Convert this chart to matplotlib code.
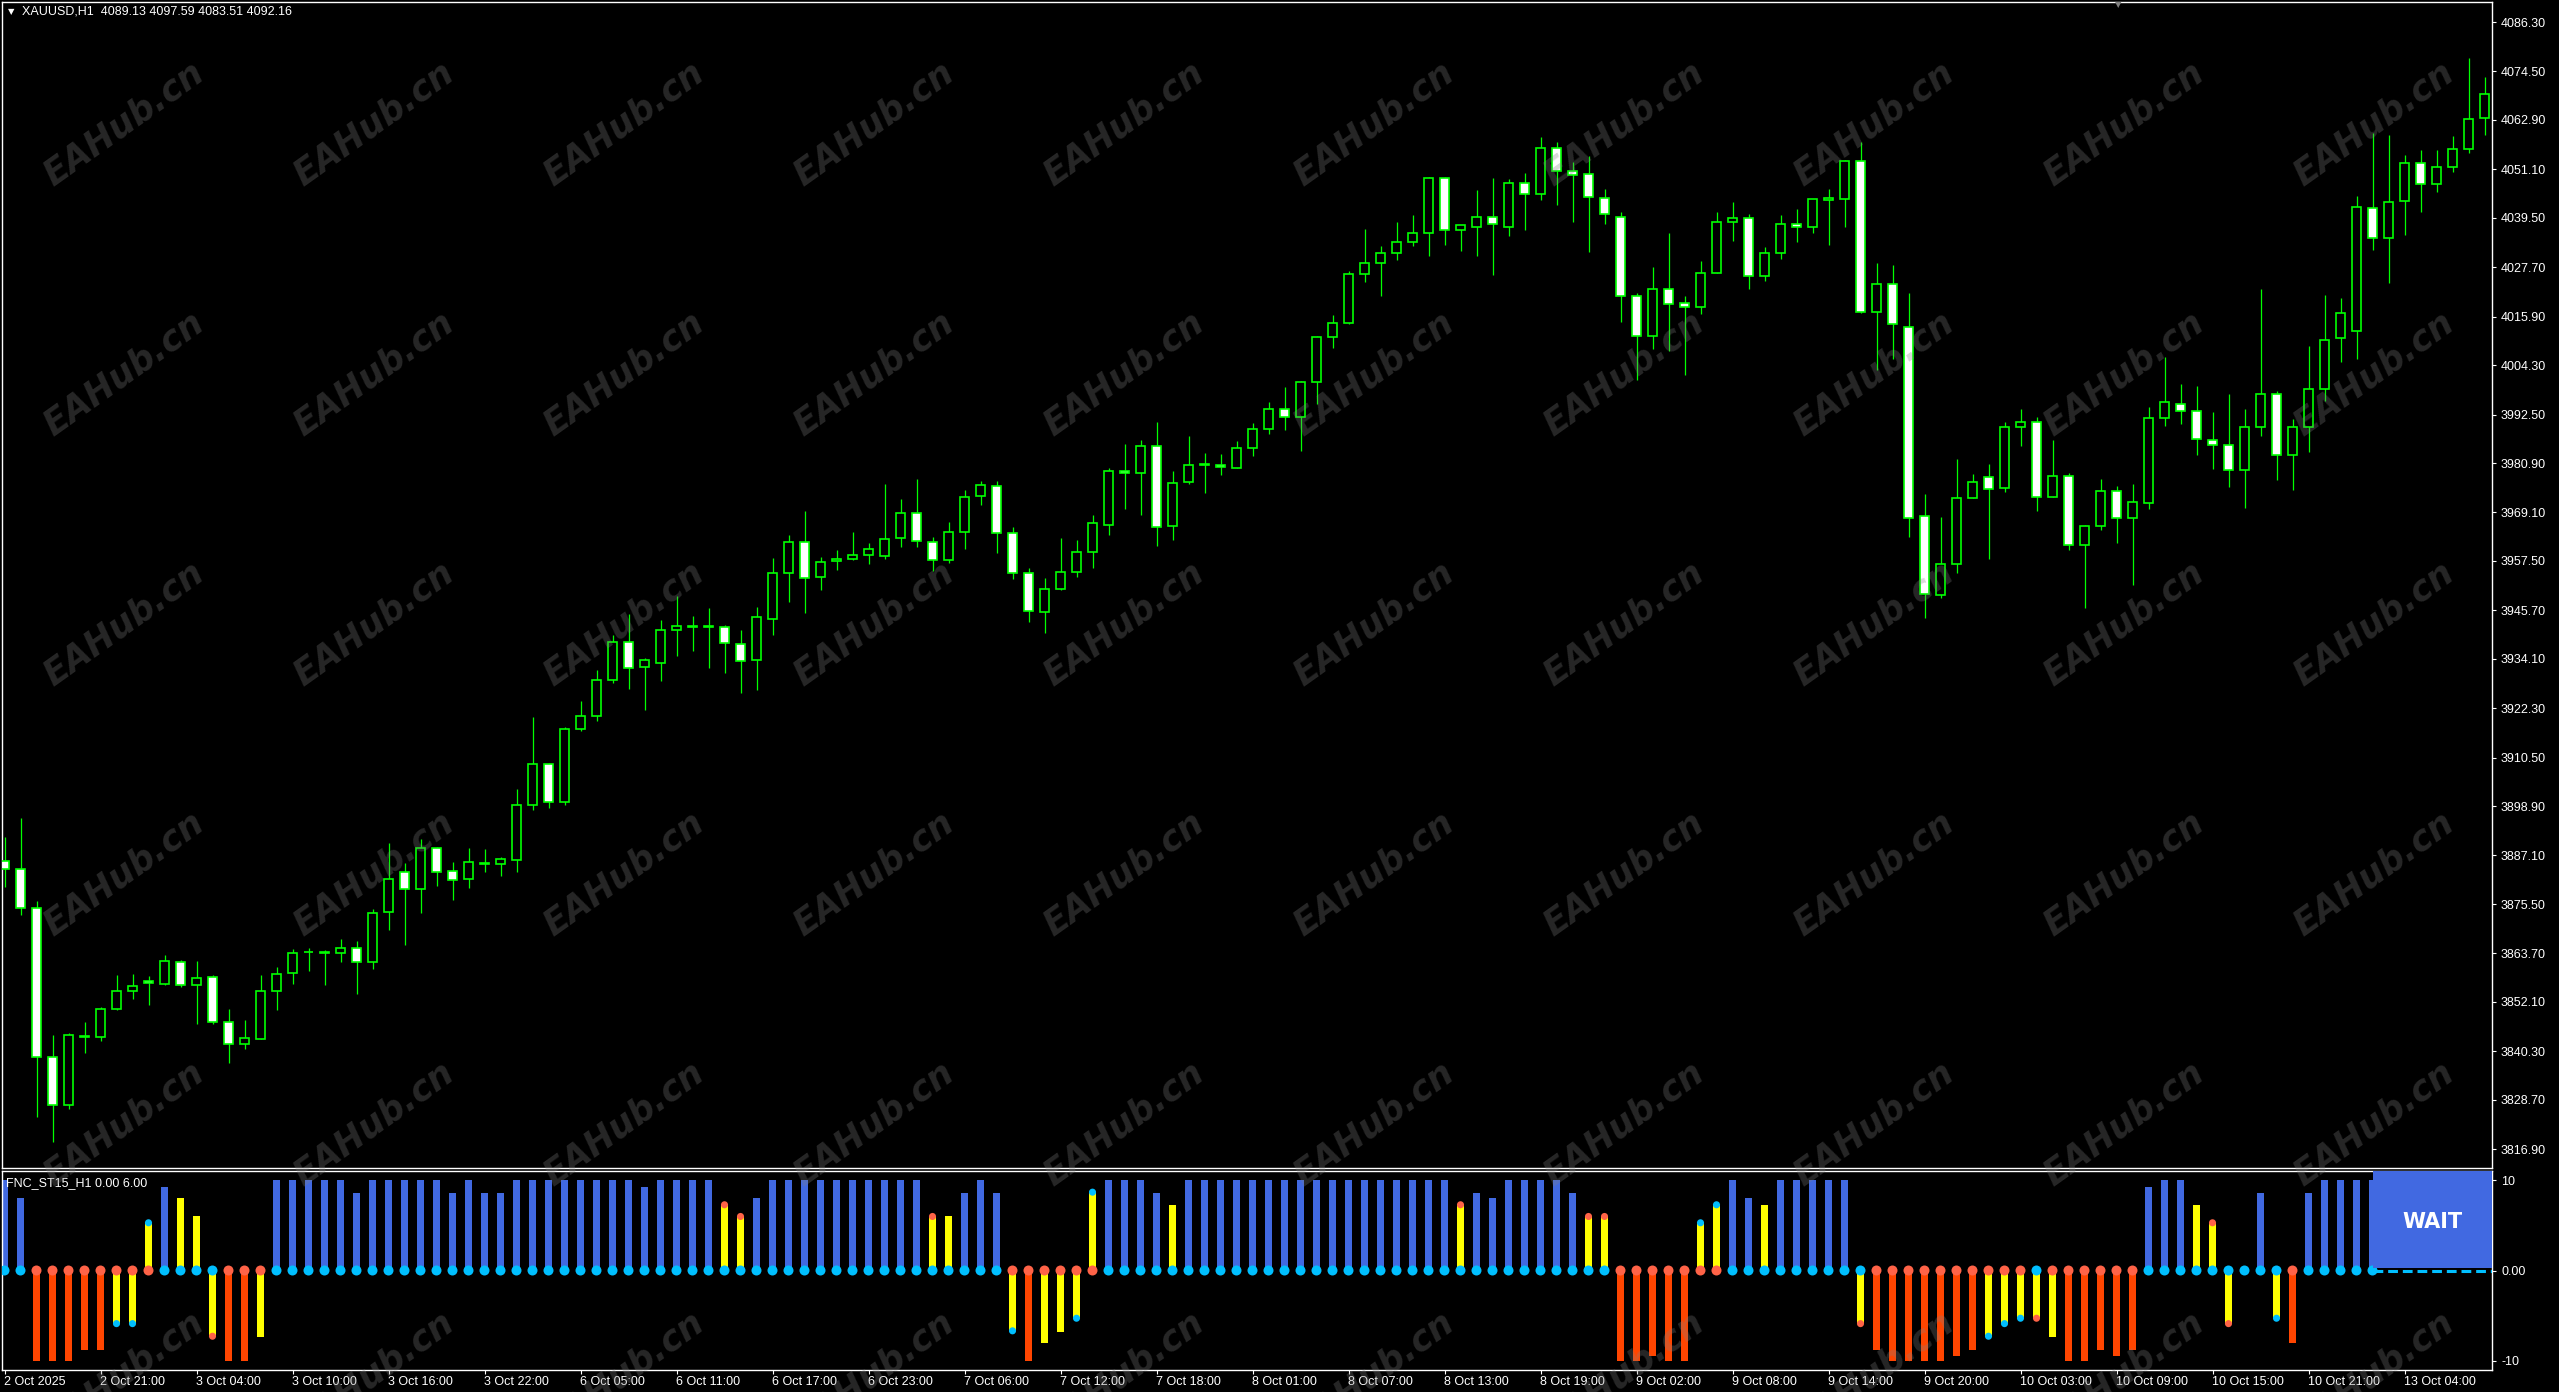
import matplotlib
matplotlib.use("Agg")
import matplotlib.pyplot as plt
from matplotlib.patches import Rectangle

# ---- data -------------------------------------------------------------
symbol_header = "XAUUSD,H1  4089.13 4097.59 4083.51 4092.16"
indicator_header = "FNC_ST15_H1 0.00 6.00"

opens = [3885.7, 3883.9, 3874.5, 3839.0, 3827.4, 3843.6, 3843.6, 3850.3, 3854.8, 3857.2,
         3856.4, 3861.6, 3856.2, 3858.0, 3847.4, 3842.1, 3843.3, 3854.6, 3858.9, 3864.0,
         3864.1, 3863.7, 3865.1, 3861.6, 3873.5, 3883.2, 3879.2, 3889.0, 3883.3, 3881.4,
         3885.4, 3885.0, 3886.1, 3899.2, 3909.0, 3899.9, 3917.3, 3920.4, 3929.0, 3938.2,
         3932.1, 3933.1, 3941.0, 3941.9, 3941.9, 3941.7, 3937.7, 3933.8, 3943.7, 3954.6,
         3962.0, 3953.7, 3957.5, 3958.0, 3959.0, 3958.6, 3963.0, 3969.0, 3962.0, 3957.7,
         3964.4, 3973.0, 3975.5, 3964.2, 3954.6, 3945.3, 3950.8, 3954.8, 3959.7, 3966.1,
         3979.1, 3978.6, 3985.0, 3965.9, 3976.3, 3980.6, 3980.5, 3979.8, 3984.6, 3989.1,
         3993.9, 3991.9, 4000.3, 4011.1, 4014.3, 4026.2, 4028.6, 4031.2, 4033.8, 4036.0,
         4049.0, 4036.7, 4037.4, 4039.6, 4037.4, 4047.8, 4045.3, 4056.2, 4050.6, 4049.9,
         4044.2, 4039.6, 4020.8, 4011.3, 4022.4, 4019.2, 4018.3, 4026.4, 4038.6, 4039.4,
         4025.5, 4031.2, 4038.0, 4037.3, 4043.7, 4044.1, 4053.0, 4017.1, 4023.6, 4013.5,
         3968.3, 3949.3, 3956.8, 3972.6, 3977.6, 3975.0, 3989.4, 3990.6, 3972.8, 3977.8,
         3961.3, 3965.9, 3974.2, 3967.8, 3971.3, 3991.6, 3995.1, 3993.4, 3986.4, 3985.2,
         3979.3, 3989.4, 3997.4, 3982.9, 3989.6, 3998.7, 4010.9, 4012.4, 4041.8, 4034.6,
         4043.6, 4052.7, 4047.5, 4051.6, 4055.9, 4063.3]
highs = [3891.4, 3896.0, 3876.2, 3844.2, 3844.7, 3847.3, 3850.9, 3858.6, 3858.8, 3858.2,
         3863.4, 3862.2, 3861.9, 3858.6, 3850.5, 3847.8, 3858.6, 3860.4, 3864.8, 3865.1,
         3864.4, 3867.1, 3866.6, 3874.3, 3890.0, 3885.3, 3891.0, 3889.1, 3885.5, 3888.9,
         3888.7, 3886.7, 3903.0, 3920.1, 3909.1, 3917.8, 3924.1, 3931.5, 3939.9, 3944.7,
         3934.4, 3943.4, 3949.2, 3944.4, 3946.3, 3942.2, 3940.9, 3946.6, 3958.3, 3963.6,
         3969.5, 3958.5, 3960.2, 3964.5, 3961.9, 3975.8, 3972.2, 3977.0, 3963.3, 3966.7,
         3974.4, 3976.5, 3976.5, 3965.7, 3955.7, 3953.5, 3962.9, 3962.4, 3968.5, 3979.7,
         3985.4, 3986.3, 3990.6, 3979.0, 3987.3, 3983.4, 3983.0, 3986.1, 3990.4, 3995.6,
         3999.0, 4000.5, 4011.3, 4016.2, 4026.7, 4036.8, 4032.7, 4038.5, 4040.2, 4049.3,
         4049.3, 4037.9, 4046.2, 4049.1, 4048.8, 4050.2, 4058.8, 4057.6, 4052.8, 4054.3,
         4046.4, 4041.0, 4021.5, 4027.7, 4035.9, 4020.8, 4029.1, 4040.9, 4043.2, 4040.5,
         4032.5, 4040.2, 4041.6, 4044.0, 4046.4, 4053.3, 4057.6, 4028.7, 4028.2, 4021.5,
         3973.5, 3968.0, 3981.8, 3978.3, 3980.7, 3990.7, 3993.9, 3991.8, 3986.3, 3978.6,
         3966.2, 3977.2, 3975.5, 3975.8, 3994.3, 4006.2, 3999.7, 3999.4, 3993.2, 3997.5,
         3993.8, 4022.4, 3998.2, 3991.5, 4008.8, 4021.1, 4020.3, 4044.7, 4059.8, 4059.3,
         4054.5, 4055.8, 4055.8, 4059.1, 4077.8, 4073.2]
lows = [3879.5, 3872.8, 3824.7, 3818.7, 3826.4, 3839.9, 3842.8, 3850.1, 3852.9, 3851.4,
        3856.1, 3855.7, 3846.7, 3846.8, 3837.4, 3840.8, 3843.2, 3850.2, 3856.4, 3859.6,
        3856.2, 3861.6, 3854.1, 3859.9, 3869.4, 3865.6, 3873.3, 3879.9, 3876.4, 3879.4,
        3883.1, 3882.3, 3883.1, 3897.9, 3898.4, 3899.1, 3916.8, 3919.2, 3928.3, 3926.8,
        3921.8, 3928.7, 3934.7, 3935.9, 3931.8, 3930.6, 3925.9, 3926.6, 3939.7, 3947.6,
        3945.1, 3950.5, 3955.3, 3957.7, 3956.7, 3957.9, 3960.9, 3960.8, 3955.2, 3957.0,
        3960.3, 3970.8, 3959.4, 3953.2, 3942.8, 3940.2, 3950.5, 3953.7, 3955.8, 3963.7,
        3969.9, 3968.5, 3961.0, 3962.5, 3975.9, 3973.7, 3978.0, 3979.7, 3982.6, 3987.8,
        3988.9, 3983.7, 3995.0, 4008.5, 4014.2, 4024.2, 4020.8, 4029.5, 4032.8, 4030.3,
        4033.1, 4031.6, 4030.4, 4025.9, 4035.2, 4036.7, 4043.8, 4042.6, 4038.4, 4031.4,
        4038.0, 4014.6, 4000.8, 4008.1, 4007.6, 4001.9, 4016.6, 4026.3, 4034.0, 4022.4,
        4024.4, 4029.7, 4033.8, 4036.0, 4033.1, 4037.3, 4016.8, 4003.2, 4005.8, 3963.2,
        3943.9, 3948.6, 3954.6, 3972.5, 3957.9, 3974.0, 3984.9, 3969.4, 3972.7, 3960.2,
        3946.3, 3964.8, 3961.9, 3951.7, 3969.8, 3989.7, 3990.2, 3982.9, 3979.5, 3975.2,
        3970.1, 3987.3, 3976.9, 3974.5, 3983.5, 3995.8, 4005.1, 4005.8, 4031.8, 4024.0,
        4035.3, 4041.0, 4045.8, 4050.4, 4054.9, 4059.2]
closes = [3883.9, 3874.5, 3839.0, 3827.5, 3844.3, 3844.0, 3850.4, 3854.8, 3855.8, 3856.6,
          3861.8, 3856.2, 3857.7, 3847.4, 3842.0, 3843.4, 3854.6, 3858.7, 3863.8, 3864.1,
          3863.8, 3865.1, 3861.7, 3873.3, 3881.4, 3879.0, 3888.8, 3883.1, 3881.2, 3885.5,
          3885.0, 3886.2, 3899.2, 3909.0, 3899.9, 3917.3, 3920.4, 3929.0, 3938.2, 3931.9,
          3933.8, 3941.0, 3942.0, 3941.8, 3941.6, 3937.9, 3933.6, 3944.1, 3954.6, 3962.0,
          3953.5, 3957.3, 3958.0, 3959.0, 3960.4, 3962.8, 3969.0, 3962.2, 3957.7, 3964.4,
          3972.8, 3975.7, 3964.2, 3954.6, 3945.5, 3950.8, 3954.8, 3959.7, 3966.6, 3979.1,
          3978.6, 3985.0, 3965.5, 3976.2, 3980.5, 3980.5, 3979.9, 3984.4, 3989.1, 3993.9,
          3991.9, 4000.3, 4011.1, 4014.3, 4026.2, 4028.6, 4031.2, 4033.8, 4036.0, 4049.0,
          4036.7, 4037.7, 4039.6, 4038.0, 4047.8, 4045.3, 4056.2, 4050.6, 4049.7, 4044.6,
          4040.5, 4020.8, 4011.3, 4022.6, 4019.0, 4018.3, 4026.4, 4038.6, 4039.4, 4025.5,
          4031.2, 4038.0, 4037.3, 4043.9, 4044.3, 4053.0, 4016.9, 4023.6, 4014.2, 3967.7,
          3949.6, 3956.8, 3972.6, 3976.4, 3974.8, 3989.4, 3990.6, 3972.8, 3977.8, 3961.3,
          3965.9, 3974.2, 3967.8, 3971.6, 3991.6, 3995.4, 3993.4, 3986.7, 3985.3, 3979.3,
          3989.4, 3997.4, 3982.9, 3989.6, 3998.7, 4010.4, 4016.8, 4042.0, 4034.6, 4043.4,
          4052.7, 4047.5, 4051.6, 4055.9, 4063.1, 4069.1]

price_ticks = [4086.30, 4074.50, 4062.90, 4051.10, 4039.50, 4027.70, 4015.90, 4004.30,
               3992.50, 3980.90, 3969.10, 3957.50, 3945.70, 3934.10, 3922.30, 3910.50,
               3898.90, 3887.10, 3875.50, 3863.70, 3852.10, 3840.30, 3828.70, 3816.90]

time_labels = ["2 Oct 2025", "2 Oct 21:00", "3 Oct 04:00", "3 Oct 10:00", "3 Oct 16:00",
               "3 Oct 22:00", "6 Oct 05:00", "6 Oct 11:00", "6 Oct 17:00", "6 Oct 23:00",
               "7 Oct 06:00", "7 Oct 12:00", "7 Oct 18:00", "8 Oct 01:00", "8 Oct 07:00",
               "8 Oct 13:00", "8 Oct 19:00", "9 Oct 02:00", "9 Oct 08:00", "9 Oct 14:00",
               "9 Oct 20:00", "10 Oct 03:00", "10 Oct 09:00", "10 Oct 15:00", "10 Oct 21:00",
               "13 Oct 04:00"]
label_every = 6

# indicator histogram (visible part, left of the WAIT box)
ind_values = [10, 8.0, -10, -10, -10, -8.8, -8.8, -5.9, -5.9, 5.3,
              9.3, 8.0, 6.0, -7.3, -10, -10, -7.4, 10, 10, 10,
              10, 10, 8.6, 10, 10, 10, 10, 10, 8.6, 10,
              8.6, 8.6, 10, 10, 10, 10, 10, 10, 10, 10,
              9.3, 10, 10, 10, 10, 7.3, 6.0, 8.0, 10, 10,
              10, 10, 10, 10, 10, 10, 10, 10, 6.0, 6.0,
              8.6, 10, 8.6, -6.7, -10, -8.1, -6.8, -5.3, 8.7, 10,
              10, 10, 8.6, 7.3, 10, 10, 10, 10, 10, 10,
              10, 10, 10, 10, 10, 10, 10, 10, 10, 10,
              10, 7.3, 8.6, 8.0, 10, 10, 10, 10, 8.6, 6.0,
              6.0, -10, -10, -9.5, -10, -10, 5.3, 7.3, 10, 8.0,
              7.3, 10, 10, 10, 10, 10, -5.9, -8.8, -10, -10,
              -10, -10, -9.5, -8.8, -7.3, -5.9, -5.3, -5.3, -7.4, -10,
              -10, -8.8, -9.5, -8.8, 9.3, 10, 10, 7.3, 5.3, -5.9,
              0, 8.6, -5.3, -8.1, 8.6, 10, 10, 10, 10]
# B = blue, R = red, Y = yellow, N = none
ind_kinds = ("BBRRRRRYYY" "BYYYRRYBBB" "BBBBBBBBBB" "BBBBBBBBBB" "BBBBBYYBBB"
             "BBBBBBBBYY" "BBBYRYYYYB" "BBBYBBBBBB" "BBBBBBBBBB" "BYBBBBBBBY"
             "YRRRRRYYBB" "YBBBBBYRRR" "RRRRYYYYYR" "RRRRBBBYYY" "NBYRBBBBB")
# colour of the dot sitting on the zero line
zero_dots = ("bbrrrrrrrr" "bbbbrrrbbb" "bbbbbbbbbb" "bbbbbbbbbb" "bbbbbbbbbb"
             "bbbbbbbbbb" "bbbrrrrrrb" "bbbbbbbbbb" "bbbbbbbbbb" "bbbbbbbbbb"
             "brrrrrrrbb" "bbbbbbbrrr" "rrrrrrrbrr" "rrrrbbbbbb" "bbbrbbbbb")
tip_bars = [7, 8, 9, 13, 45, 46, 58, 63, 67, 68, 91, 99, 100, 106, 107, 116,
            124, 125, 126, 127, 138, 139, 142]
tip_dots = "bbbrrrrbbbrrrbbrbbbrrrb"
wait_from = 148.05  # first bar hidden by the signal box
signal_text = "WAIT"

# ---- style ------------------------------------------------------------
W, H = 2559, 1392
BG = "black"
CANDLE = "#00FF00"
BAR_COL = {"B": "#4169E1", "R": "#FF4500", "Y": "#FFFF00"}
DOT_COL = {"b": "#00BFFF", "r": "#FF6347"}
FONT = "Liberation Sans"


def fx(px):
    return px / W


def fy(py):
    return 1 - py / H


fig = plt.figure(figsize=(W / 100, H / 100), dpi=100, facecolor=BG)
ax = fig.add_axes([fx(2), fy(1168), fx(2492) - fx(2), fy(2) - fy(1168)])
ax2 = fig.add_axes([fx(2), fy(1370), fx(2492) - fx(2), fy(1171) - fy(1370)], sharex=ax)

x_left = (2 - 4.5) / 16
x_right = (2492 - 4.5) / 16

for a in (ax, ax2):
    a.set_facecolor("none")
    for s in a.spines.values():
        s.set_color("white")
        s.set_linewidth(1.0)
    a.tick_params(colors="white", labelsize=9, direction="out", length=3, width=0.8)
    for lab in a.get_yticklabels() + a.get_xticklabels():
        lab.set_fontfamily(FONT)

# ---- candles ----------------------------------------------------------
idx = list(range(len(opens)))
ax.vlines(idx, lows, highs, color=CANDLE, linewidth=0.9, zorder=2)
bottoms = [min(o, c) for o, c in zip(opens, closes)]
heights = [abs(c - o) for o, c in zip(opens, closes)]
faces = ["white" if c < o else "black" for o, c in zip(opens, closes)]
ax.bar(idx, heights, bottom=bottoms, width=0.56, color=faces,
       edgecolor=CANDLE, linewidth=1.2, zorder=3)

ax.set_xlim(x_left, x_right)
ax.set_ylim(3812.4, 4091.1)
ax.yaxis.tick_right()
ax.set_yticks(price_ticks)
ax.set_yticklabels([f"{t:.2f}" for t in price_ticks], fontfamily=FONT, fontsize=9)
ax.tick_params(axis="x", bottom=False, labelbottom=False)

ax.text(22, fy(13) if False else 0, "", transform=ax.transAxes)
fig.text(fx(8), fy(12), "\u25BC", color="white", fontsize=6, ha="left", va="center",
         family="DejaVu Sans")
fig.text(fx(22), fy(12), symbol_header, color="white", fontsize=9, ha="left",
         va="center", family=FONT)
# chart shift marker
fig.text(fx(2118), fy(5), "\u25BC", color="#808080", fontsize=6, ha="center",
         va="center", family="DejaVu Sans")

# ---- indicator --------------------------------------------------------
n = len(ind_values)
xs = list(range(n))
cols = [BAR_COL.get(k, "none") for k in ind_kinds]
ax2.bar(xs, ind_values, width=0.42, color=cols, linewidth=0, zorder=2)
ax2.scatter(xs, [0] * n, s=52, c=[DOT_COL[d] for d in zero_dots], linewidths=0, zorder=4)
ax2.scatter(tip_bars, [ind_values[i] for i in tip_bars], s=26,
            c=[DOT_COL[d] for d in tip_dots], linewidths=0, zorder=4)

ax2.add_patch(Rectangle((wait_from, 0.25), x_right - wait_from, 11.2 - 0.25,
                        facecolor="#4169E1", edgecolor="none", zorder=5))
ax2.plot([wait_from, x_right], [0, 0], color="#00BFFF", linewidth=2.2,
         dashes=(3.2, 1.6), zorder=6)
ax2.text((wait_from + x_right) / 2, 5.4, signal_text, color="white", fontsize=15,
         fontweight="bold", ha="center", va="center", family="DejaVu Sans", zorder=7)

ax2.set_ylim(-11.05, 11.05)
ax2.yaxis.tick_right()
ax2.set_yticks([10, 0, -10])
ax2.set_yticklabels(["10", "0.00", "-10"], fontfamily=FONT, fontsize=9)
tick_pos = [i * label_every for i in range(len(time_labels))]
ax2.set_xticks(tick_pos)
ax2.set_xticklabels(time_labels, fontfamily=FONT, fontsize=9, ha="left")
ax2.tick_params(axis="x", pad=1)

fig.text(fx(6), fy(1183), indicator_header, color="white", fontsize=9, ha="left",
         va="center", family=FONT, zorder=8)

# ---- watermark --------------------------------------------------------
for j in range(10):
    for k in range(6):
        fig.text(fx(124 + 250 * j), fy(124 + 250 * k), "EAHub.cn", color="#808080",
                 alpha=0.3, fontsize=25, fontweight="bold", fontstyle="oblique",
                 rotation=35.5, ha="center", va="center", family="DejaVu Sans",
                 zorder=20)

fig.savefig("out.png", dpi=100, facecolor=BG)
